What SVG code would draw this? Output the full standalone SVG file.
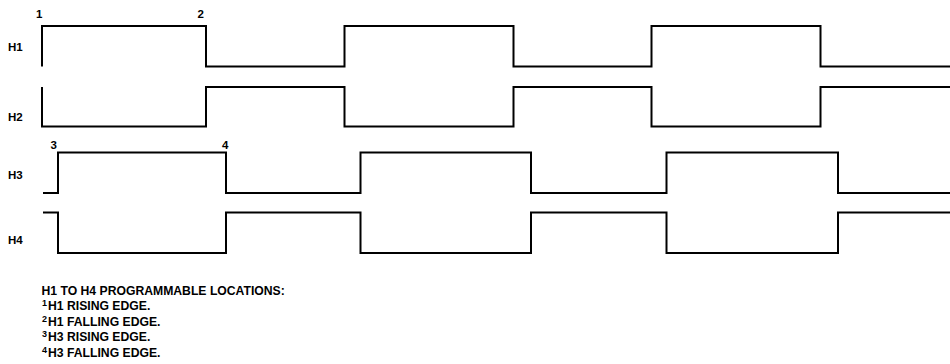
<svg xmlns="http://www.w3.org/2000/svg" width="950" height="364" viewBox="0 0 950 364">
<style>
.w{fill:none;stroke:#000;stroke-width:2;stroke-linejoin:miter;stroke-linecap:butt}
.lbl{font-family:"Liberation Sans",Arial,sans-serif;font-weight:bold;font-size:11.5px;fill:#000}
.note{font-family:"Liberation Sans",Arial,sans-serif;font-weight:bold;font-size:12.2px;fill:#000}
.sup{font-size:9px}
</style>
<rect width="950" height="364" fill="#fff"/>
<g id="H1">
<text class="lbl" x="8" y="51">H1</text>
<path class="w" d="M42,66.5 V26 H206 V66.5 H344.5 V26 H513.5 V66.5 H651.5 V26 H820.5 V66.5 H950"/>
</g>
<g id="H2">
<text class="lbl" x="8" y="121">H2</text>
<path class="w" d="M42,87 V126.5 H206 V87 H344.5 V126.5 H513.5 V87 H651.5 V126.5 H820.5 V87 H950"/>
</g>
<g id="H3">
<text class="lbl" x="8" y="178.5">H3</text>
<path class="w" d="M43,193 H58 V152.5 H226 V193 H360.5 V152.5 H531 V193 H666.5 V152.5 H838 V193 H950"/>
</g>
<g id="H4">
<text class="lbl" x="8" y="243.5">H4</text>
<path class="w" d="M43,212.5 H58 V253 H226 V212.5 H360.5 V253 H531 V212.5 H666.5 V253 H838 V212.5 H950"/>
</g>
<g id="markers">
<text class="lbl" x="36" y="17.5">1</text>
<text class="lbl" x="197.5" y="17.5">2</text>
<text class="lbl" x="50.5" y="148.5">3</text>
<text class="lbl" x="222" y="148.5">4</text>
</g>
<g id="connectors"></g>
<g id="notes">
<text class="note" x="41.5" y="294.5">H1 TO H4 PROGRAMMABLE LOCATIONS:</text>
<text class="note" x="42" y="310"><tspan class="sup" dy="-4">1</tspan><tspan dx="1" dy="4">H1 RISING EDGE.</tspan></text>
<text class="note" x="42" y="325.5"><tspan class="sup" dy="-4">2</tspan><tspan dx="1" dy="4">H1 FALLING EDGE.</tspan></text>
<text class="note" x="42" y="341"><tspan class="sup" dy="-4">3</tspan><tspan dx="1" dy="4">H3 RISING EDGE.</tspan></text>
<text class="note" x="42" y="356.5"><tspan class="sup" dy="-4">4</tspan><tspan dx="1" dy="4">H3 FALLING EDGE.</tspan></text>
</g>
</svg>
